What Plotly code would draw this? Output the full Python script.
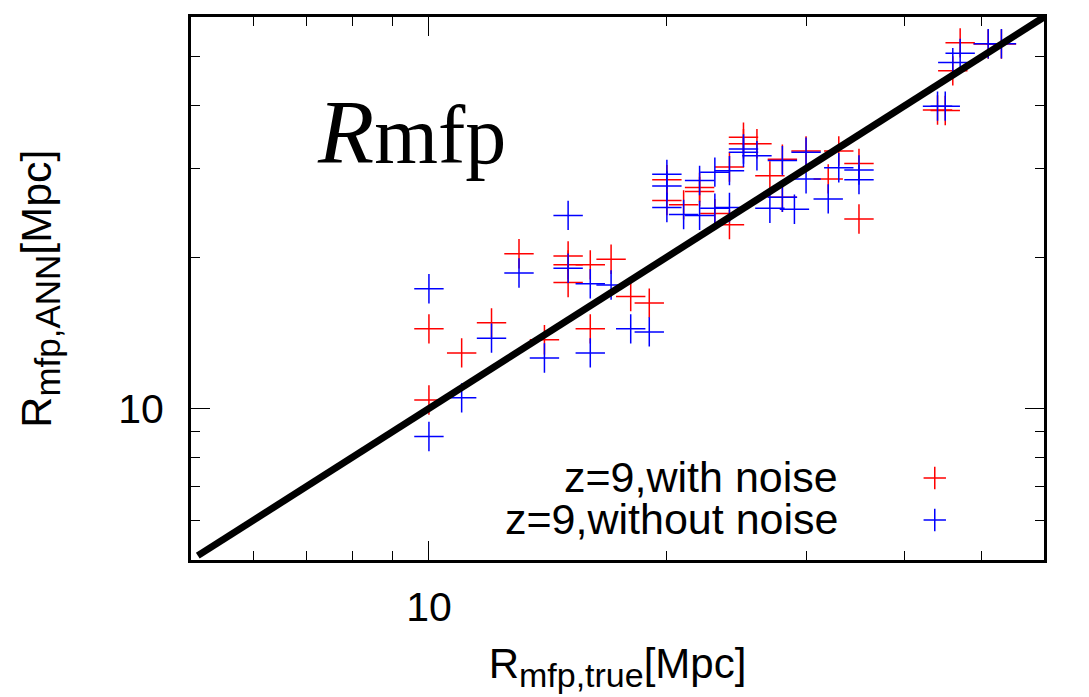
import math

import plotly.graph_objects as go

# R_mfp: true value vs ANN prediction [Mpc], z=9
red_x = [10, 10, 11, 12, 13, 14, 15, 15, 15, 16,
         16, 17, 18, 19, 20, 20, 21, 22, 22, 23,
         24, 24, 25, 25, 26, 28, 30, 27, 28, 33,
         35, 32, 35, 47, 51, 53, 46, 44, 45]
red_y = [10.4, 14.4, 12.9, 14.8, 20.3, 13.7, 20.1, 19.3, 17.8, 19.3,
         14.4, 19.8, 16.7, 16.2, 28.5, 25.9, 25.4, 27.5, 27.0, 24.4,
         23.2, 30.2, 34.6, 33.6, 33.6, 31.3, 32.5, 29.0, 26.3, 32.5,
         30.7, 28.6, 23.8, 53.3, 53.0, 53.0, 46.9, 39.2, 39.1]

blue_x = [10, 11, 10, 12, 13, 14, 15, 15, 16, 16,
          17, 18, 19, 20, 20, 20, 21, 22, 22, 23,
          23, 24, 24, 25, 25, 26, 28, 27, 29, 28,
          30, 30, 33, 32, 35, 35, 47, 46, 51, 53,
          44, 45]
blue_y = [8.8, 10.5, 17.3, 13.8, 18.6, 12.6, 24.2, 19.0, 17.7, 12.9,
          17.6, 14.4, 14.2, 29.2, 27.7, 25.1, 24.3, 28.4, 24.2, 29.5,
          25.0, 29.7, 25.1, 32.8, 32.3, 31.8, 31.1, 25.0, 24.9, 26.3,
          32.3, 28.6, 30.1, 26.1, 29.8, 28.5, 50.8, 48.7, 53.1, 53.1,
          39.9, 39.9]

one_to_one = [5.1, 60]

labels = ['z=9,with noise', 'z=9,without noise']
major_ticks = [10]
minor_ticks = [6, 7, 8, 9, 20, 30, 40, 50]
axis_range = [5, 60]


def sub(txt, size=35):
    # gnuplot-style subscript, a bit bigger than plotly's default 70%
    return '<sub><span style="font-size:%dpx">%s</span></sub>' % (size, txt)


fig = go.Figure()

for xs, ys, col in [(red_x, red_y, '#ff0000'), (blue_x, blue_y, '#0000ff')]:
    fig.add_trace(go.Scatter(
        x=xs, y=ys, mode='markers', name=' ',
        marker=dict(symbol='cross-thin', size=21, line=dict(width=1.5, color=col), color=col),
    ))

fig.add_trace(go.Scatter(
    x=one_to_one, y=one_to_one, mode='lines', showlegend=False,
    line=dict(color='black', width=7),
))

axis_style = dict(
    type='log',
    range=[math.log10(axis_range[0]), math.log10(axis_range[1])],
    tickvals=major_ticks, ticktext=[str(v) for v in major_ticks],
    tickfont=dict(size=41),
    ticks='inside', ticklen=19, tickwidth=1.2, tickcolor='black',
    minor=dict(tickvals=minor_ticks, ticks='inside', ticklen=9, tickwidth=1.2, tickcolor='black'),
    showline=True, linewidth=3, linecolor='black', mirror='ticks',
    showgrid=False, zeroline=False,
)

fig.update_xaxes(**axis_style, ticklabelstandoff=9,
                 title=dict(text='R' + sub('mfp,true', 34) + '[Mpc]', standoff=20,
                            font=dict(size=42)))
fig.update_yaxes(**axis_style, ticklabelstandoff=16)

fig.add_annotation(
    text='R' + sub('mfp,ANN') + '[Mpc]', textangle=-90,
    xref='paper', yref='paper', x=-0.178, y=0.5, showarrow=False,
    xanchor='center', yanchor='middle',
)
fig.add_annotation(
    text='<i>R</i><span style="font-size:82px">mfp</span>',
    xref='paper', yref='paper', x=0.258, y=0.788, showarrow=False,
    xanchor='center', yanchor='middle',
    font=dict(family='Liberation Serif', size=92),
)
for i, lab in enumerate(labels):
    fig.add_annotation(
        text=lab, xref='paper', yref='paper', x=0.761, y=0.152 - i * 0.077,
        xanchor='right', yanchor='middle', showarrow=False,
    )

# the page body has an 8px margin, so the figure is made 8px smaller
fig.update_layout(
    width=1081, height=689,
    margin=dict(l=183, r=45, t=6, b=137),
    plot_bgcolor='white', paper_bgcolor='white',
    font=dict(family='Liberation Sans', size=43, color='black'),
    legend=dict(x=0.8485, y=0.199, xanchor='left', yanchor='top',
                bgcolor='rgba(0,0,0,0)', font=dict(size=30), tracegroupgap=0),
)

fig.write_html('out.html')
